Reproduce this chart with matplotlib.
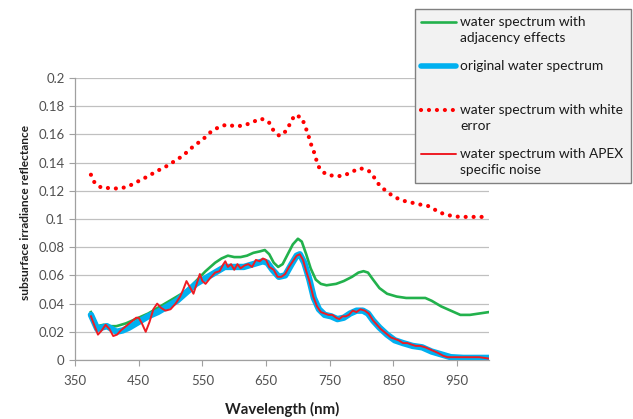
import matplotlib.pyplot as plt
from matplotlib.lines import Line2D
from matplotlib.patches import Rectangle

# data
wl_green = [375, 380, 385, 395, 405, 415, 430, 450, 465, 480, 495, 510, 525, 540, 555, 570, 580, 590,
            600, 610, 620, 630, 640, 648, 655, 662, 669, 676, 684, 692, 700, 706, 713, 720, 728, 736,
            745, 760, 772, 785, 795, 803, 810, 818, 828, 840, 855, 870, 885, 900, 910, 925, 940, 955,
            970, 985, 1000]
green = [0.034, 0.029, 0.024, 0.025, 0.024, 0.024, 0.026, 0.030, 0.033, 0.037, 0.041, 0.045, 0.049,
         0.056, 0.063, 0.069, 0.072, 0.074, 0.073, 0.073, 0.074, 0.076, 0.077, 0.078, 0.075, 0.069,
         0.066, 0.068, 0.075, 0.082, 0.086, 0.084, 0.075, 0.065, 0.057, 0.054, 0.053, 0.054, 0.056,
         0.059, 0.062, 0.063, 0.062, 0.057, 0.051, 0.047, 0.045, 0.044, 0.044, 0.044, 0.042, 0.038,
         0.035, 0.032, 0.032, 0.033, 0.034]

wl_blue = [375, 380, 385, 392, 400, 408, 415, 425, 435, 450, 465, 480, 495, 510, 525, 540, 555, 570,
           585, 600, 615, 630, 645, 652, 660, 670, 680, 690, 698, 703, 710, 718, 725, 733, 742, 752,
           762, 772, 782, 792, 802, 810, 818, 828, 840, 852, 865, 880, 895, 910, 925, 940, 960, 1000]
blue = [0.032, 0.027, 0.022, 0.023, 0.024, 0.022, 0.020, 0.021, 0.023, 0.027, 0.031, 0.034, 0.038,
        0.042, 0.048, 0.054, 0.058, 0.062, 0.066, 0.066, 0.066, 0.068, 0.070, 0.069, 0.064, 0.059,
        0.060, 0.068, 0.074, 0.075, 0.069, 0.057, 0.044, 0.036, 0.032, 0.031, 0.029, 0.030, 0.033,
        0.035, 0.035, 0.033, 0.028, 0.023, 0.018, 0.014, 0.012, 0.010, 0.009, 0.006, 0.004, 0.002,
        0.0015, 0.0015]

wl_white = [375, 381, 392, 405, 419, 433, 446, 459, 471, 483, 496, 508, 520, 530, 541, 552, 563, 575,
            588, 602, 616, 629, 642, 654, 661, 671, 682, 688, 695, 706, 711, 716, 720, 725, 729, 734,
            744, 759, 772, 785, 798, 811, 820, 828, 839, 850, 863, 877, 890, 903, 910, 922, 935, 949,
            963, 977, 1000]
white = [0.1314, 0.1255, 0.122, 0.122, 0.1215, 0.123, 0.126, 0.129, 0.132, 0.135, 0.138, 0.1416,
         0.145, 0.1494, 0.1532, 0.157, 0.1617, 0.165, 0.167, 0.1657, 0.1664, 0.1688, 0.1712, 0.169,
         0.1633, 0.1589, 0.1626, 0.168, 0.1738, 0.1719, 0.1662, 0.160, 0.1537, 0.1478, 0.1418,
         0.1357, 0.1317, 0.1303, 0.1307, 0.1336, 0.136, 0.1343, 0.1293, 0.1239, 0.1196, 0.116,
         0.1132, 0.1118, 0.1104, 0.1095, 0.108, 0.1047, 0.1028, 0.1017, 0.1015, 0.1015, 0.1015]

wl_apex = [375, 380, 386, 392, 398, 404, 410, 416, 422, 430, 438, 446, 450, 455, 461, 467, 473, 479,
           485, 492, 500, 508, 515, 520, 525, 530, 536, 541, 546, 550, 555, 562, 570, 577, 583, 586,
           590, 595, 600, 605, 610, 616, 622, 628, 634, 640, 645, 650, 655, 662, 668, 674, 680, 686,
           692, 698, 703, 708, 713, 718, 724, 730, 736, 742, 748, 754, 760, 765, 770, 775, 780, 786,
           792, 798, 805, 811, 818, 824, 830, 838, 846, 852, 858, 865, 872, 878, 885, 892, 900, 910,
           920, 928, 935, 950, 970, 985, 1000]
apex = [0.031, 0.025, 0.018, 0.021, 0.025, 0.022, 0.017, 0.018, 0.021, 0.024, 0.027, 0.030, 0.030,
        0.026, 0.020, 0.027, 0.036, 0.040, 0.037, 0.035, 0.036, 0.040, 0.045, 0.050, 0.056, 0.052,
        0.047, 0.054, 0.061, 0.056, 0.054, 0.058, 0.062, 0.063, 0.068, 0.070, 0.066, 0.068, 0.064,
        0.068, 0.065, 0.067, 0.068, 0.066, 0.071, 0.070, 0.072, 0.071, 0.066, 0.064, 0.059, 0.059,
        0.061, 0.066, 0.070, 0.074, 0.075, 0.071, 0.063, 0.056, 0.045, 0.038, 0.034, 0.033, 0.032,
        0.032, 0.030, 0.029, 0.031, 0.031, 0.032, 0.035, 0.034, 0.036, 0.035, 0.033, 0.028, 0.025,
        0.022, 0.019, 0.016, 0.015, 0.014, 0.012, 0.012, 0.011, 0.010, 0.010, 0.009, 0.007, 0.005,
        0.003, 0.002, 0.002, 0.002, 0.002, 0.001]

xticks = [350, 450, 550, 650, 750, 850, 950]
yticks = [0, 0.02, 0.04, 0.06, 0.08, 0.1, 0.12, 0.14, 0.16, 0.18, 0.2]
ytick_labels = ['0', '0.02', '0.04', '0.06', '0.08', '0.1', '0.12', '0.14', '0.16', '0.18', '0.2']
legend_labels = ['water spectrum with\nadjacency effects', 'original water spectrum',
                 'water spectrum with white\nerror', 'water spectrum with APEX\nspecific noise']

GREEN = '#22b14c'
BLUE = '#00b0f0'
RED = '#ff0000'
DOTTED = (0, (0.01, 1.9))

plt.rcParams['font.family'] = ['Lato', 'DejaVu Sans']

fig = plt.figure(figsize=(6.33, 4.19), dpi=100)
ax = fig.add_axes([0.1185, 0.1408, 0.654, 0.673])

ax.plot(wl_green, green, color=GREEN, lw=1.9, zorder=3)
ax.plot(wl_blue, blue, color=BLUE, lw=4.6, solid_capstyle='round', zorder=3)
ax.plot(wl_white, white, color=RED, lw=3.0, ls=DOTTED, dash_capstyle='round', zorder=3)
ax.plot(wl_apex, apex, color='#ee1c24', lw=1.4, zorder=4)

ax.set_xlim(350, 1000)
ax.set_ylim(0, 0.2)
ax.set_xticks(xticks)
ax.set_yticks(yticks)
ax.set_yticklabels(ytick_labels)
ax.tick_params(labelsize=9.5, colors='#505050', length=4, width=0.8)
ax.tick_params(axis='both', color='#a0a0a0')
ax.tick_params(axis='x', pad=7)
ax.yaxis.grid(True, color='#c0c0c0', lw=0.9)
ax.set_axisbelow(True)
for s in ['top', 'right']:
    ax.spines[s].set_visible(False)
for s in ['left', 'bottom']:
    ax.spines[s].set_color('#a0a0a0')
    ax.spines[s].set_linewidth(0.9)

ax.set_xlabel('Wavelength (nm)', fontsize=10.8, fontweight='bold', color='#202020')
ax.set_ylabel('subsurface irradiance reflectance', fontsize=8.6, fontweight='bold',
              color='#202020')
ax.xaxis.set_label_coords(0.5, -0.148)
ax.yaxis.set_label_coords(-0.106, 0.525)

# legend box drawn by hand (pixel coords -> figure fraction)
W, H = 633, 419
def fx(px):
    return px / W
def fy(py):
    return 1 - py / H

fig.add_artist(Rectangle((fx(415), fy(183)), fx(631) - fx(415), fy(9) - fy(183),
                         facecolor='#f2f2f2', edgecolor='#808080', lw=1.0, zorder=5))
handles = [(GREEN, 1.9, '-', 22), (BLUE, 4.0, '-', 66), (RED, 3.0, DOTTED, 110),
           ('#ee1c24', 1.4, '-', 154)]
for (c, lw, ls, y), lab in zip(handles, legend_labels):
    ln = Line2D([fx(421), fx(456)], [fy(y), fy(y)], color=c, lw=lw, ls=ls,
                solid_capstyle='round', dash_capstyle='round', zorder=6)
    fig.add_artist(ln)
    fig.text(fx(460), fy(y - 6), lab, fontsize=9.9, color='#1a1a1a', va='top', ha='left',
             linespacing=1.38, zorder=7)

fig.savefig('out.png', dpi=100)
